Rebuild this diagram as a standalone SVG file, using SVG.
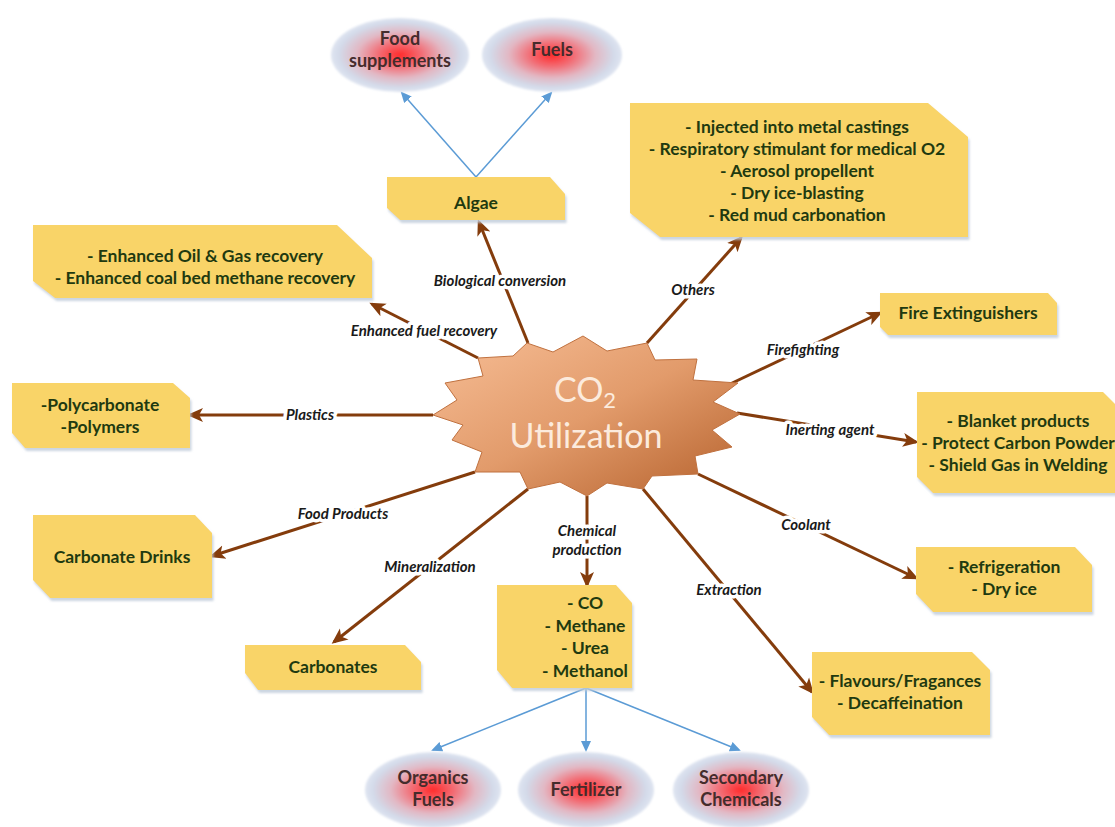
<svg xmlns="http://www.w3.org/2000/svg" width="1115" height="827" viewBox="0 0 1115 827">
<defs>
<style>
.box{fill:#F9D468;filter:url(#sh)}
.bt{font-family:Lato,'Liberation Sans',sans-serif;font-weight:bold;font-size:17.5px;fill:#1F3A10;text-anchor:middle}
.lbl{font-family:Lato,'Liberation Sans',sans-serif;font-weight:bold;font-style:italic;font-size:15px;fill:#1A1A1A;text-anchor:middle;stroke:#fff;stroke-width:7;paint-order:stroke;stroke-linejoin:round}
.con{stroke:#843C0C;stroke-width:3;fill:none;marker-end:url(#ah)}
.bl{stroke:#5B9BD5;stroke-width:1.5;fill:none;marker-end:url(#bh)}
.ell{fill:url(#rg)}
.et{font-family:Lato,'Liberation Sans',sans-serif;font-weight:bold;font-size:18px;fill:#452C2C;text-anchor:middle}
.st{font-family:Lato,'Open Sans',sans-serif;font-size:34px;fill:#FCEBDD;text-anchor:middle}
</style>
<filter id="sh" x="-5%" y="-10%" width="115%" height="130%">
<feDropShadow dx="1.5" dy="3" stdDeviation="1" flood-color="#BFCBDA" flood-opacity="0.8"/>
</filter>
<filter id="soft" x="-10%" y="-10%" width="120%" height="120%">
<feGaussianBlur stdDeviation="1.2"/>
</filter>
<linearGradient id="sg" x1="0" y1="0" x2="1" y2="1">
<stop offset="0" stop-color="#F7BE96"/>
<stop offset="0.5" stop-color="#E29B6B"/>
<stop offset="1" stop-color="#B5612C"/>
</linearGradient>
<radialGradient id="rg" cx="0.5" cy="0.5" r="0.5">
<stop offset="0" stop-color="#FF2B2B"/>
<stop offset="0.3" stop-color="#F36A72"/>
<stop offset="0.62" stop-color="#E2B8C4"/>
<stop offset="0.88" stop-color="#D3DAE9"/>
<stop offset="1" stop-color="#DFE5F1"/>
</radialGradient>
<marker id="ah" markerUnits="userSpaceOnUse" markerWidth="18" markerHeight="16" refX="13" refY="8" orient="auto">
<path d="M0,1 L16,8 L0,15 L4,8 z" fill="#843C0C"/>
</marker>
<marker id="bh" markerUnits="userSpaceOnUse" markerWidth="12" markerHeight="10" refX="9" refY="5" orient="auto">
<path d="M0,0 L11,5 L0,10 z" fill="#5B9BD5"/>
</marker>
</defs>
<rect width="1115" height="827" fill="#fff"/>

<g id="connectors">
<line class="bl" x1="476" y1="177" x2="402" y2="93"/>
<line class="bl" x1="476" y1="177" x2="551" y2="93"/>
<line class="bl" x1="586" y1="688" x2="433" y2="750"/>
<line class="bl" x1="586" y1="688" x2="586" y2="750"/>
<line class="bl" x1="586" y1="688" x2="739" y2="750"/>
<line class="con" x1="528" y1="343" x2="479" y2="222"/>
<line class="con" x1="478" y1="358" x2="372" y2="304"/>
<line class="con" x1="433" y1="415" x2="190" y2="415"/>
<line class="con" x1="475" y1="472" x2="212" y2="556"/>
<line class="con" x1="528" y1="489" x2="334" y2="642"/>
<line class="con" x1="587" y1="496" x2="587" y2="585"/>
<line class="con" x1="643" y1="489" x2="812" y2="692"/>
<line class="con" x1="698" y1="474" x2="916" y2="578"/>
<line class="con" x1="737" y1="413" x2="916" y2="442"/>
<line class="con" x1="728" y1="385" x2="880" y2="313"/>
<line class="con" x1="647" y1="343" x2="741" y2="238"/>
<text class="lbl" x="500" y="286">Biological conversion</text>
<text class="lbl" x="424" y="336">Enhanced fuel recovery</text>
<text class="lbl" x="310" y="420">Plastics</text>
<text class="lbl" x="343" y="519">Food Products</text>
<text class="lbl" x="430" y="572">Mineralization</text>
<text class="lbl" x="587" y="536">Chemical</text>
<text class="lbl" x="587" y="555">production</text>
<text class="lbl" x="729" y="595">Extraction</text>
<text class="lbl" x="806" y="530">Coolant</text>
<text class="lbl" x="830" y="435">Inerting agent</text>
<text class="lbl" x="803" y="355">Firefighting</text>
<text class="lbl" x="693" y="295">Others</text>
</g>

<g id="center">
<polygon points="583,336 607,351 647,343 655,360 697,359 693,380 738,383 713,402 740,414 712,430 732,447 695,456 698,474 652,476 643,489 607,483 587,496 560,482 528,489 520,472 475,472 482,452 452,440 463,425 433,415 457,400 445,383 483,376 478,358 513,356 527,343 553,352" fill="url(#sg)" stroke="#C0713F" stroke-width="1"/>
<text class="st" x="585" y="402">CO<tspan font-size="22" dy="6">2</tspan></text>
<text class="st" x="586" y="448">Utilization</text>
</g>

<g id="food-supplements">
<ellipse class="ell" cx="400" cy="55" rx="69" ry="37" filter="url(#soft)"/>
<text class="et" x="400" y="45">Food</text>
<text class="et" x="400" y="67">supplements</text>
</g>
<g id="fuels">
<ellipse class="ell" cx="552" cy="55" rx="70" ry="37" filter="url(#soft)"/>
<text class="et" x="552" y="56">Fuels</text>
</g>
<g id="organics-fuels">
<ellipse class="ell" cx="433" cy="790" rx="68" ry="38" filter="url(#soft)"/>
<text class="et" x="433" y="784">Organics</text>
<text class="et" x="433" y="806">Fuels</text>
</g>
<g id="fertilizer">
<ellipse class="ell" cx="586" cy="790" rx="68" ry="38" filter="url(#soft)"/>
<text class="et" x="586" y="796">Fertilizer</text>
</g>
<g id="secondary-chemicals">
<ellipse class="ell" cx="741" cy="790" rx="68" ry="38" filter="url(#soft)"/>
<text class="et" x="741" y="784">Secondary</text>
<text class="et" x="741" y="806">Chemicals</text>
</g>

<g id="algae">
<polygon class="box" points="387,177 550,177 565,194 565,220 400,220 387,208"/>
<text class="bt" x="476" y="209">Algae</text>
</g>
<g id="others">
<polygon class="box" points="630,103 928,103 968,137 968,237 660,237 630,213"/>
<text class="bt" x="797" y="133">- Injected into metal castings</text>
<text class="bt" x="797" y="155">- Respiratory stimulant for medical O2</text>
<text class="bt" x="797" y="177">- Aerosol propellent</text>
<text class="bt" x="797" y="199">- Dry ice-blasting</text>
<text class="bt" x="797" y="221">- Red mud carbonation</text>
</g>
<g id="enhanced-recovery">
<polygon class="box" points="33,225 337,225 372,258 372,298 55,298 33,281"/>
<text class="bt" x="205" y="262">- Enhanced Oil &amp; Gas recovery</text>
<text class="bt" x="205" y="284">- Enhanced coal bed methane recovery</text>
</g>
<g id="polycarbonate">
<polygon class="box" points="12,383 173,383 190,398 190,448 25,448 12,433"/>
<text class="bt" x="100" y="411">-Polycarbonate</text>
<text class="bt" x="100" y="433">-Polymers</text>
</g>
<g id="carbonate-drinks">
<polygon class="box" points="33,515 195,515 212,533 212,598 50,598 33,580"/>
<text class="bt" x="122" y="563">Carbonate Drinks</text>
</g>
<g id="carbonates">
<polygon class="box" points="245,645 405,645 421,662 421,690 258,690 245,673"/>
<text class="bt" x="333" y="673">Carbonates</text>
</g>
<g id="chemicals">
<polygon class="box" points="497,585 616,585 632,603 632,688 512,688 497,670"/>
<text class="bt" x="585" y="609">- CO</text>
<text class="bt" x="585" y="632">- Methane</text>
<text class="bt" x="585" y="654">- Urea</text>
<text class="bt" x="585" y="677">- Methanol</text>
</g>
<g id="flavours">
<polygon class="box" points="812,652 972,652 990,670 990,735 829,735 812,717"/>
<text class="bt" x="900" y="687">- Flavours/Fragances</text>
<text class="bt" x="900" y="709">- Decaffeination</text>
</g>
<g id="refrigeration">
<polygon class="box" points="916,547 1075,547 1092,565 1092,612 933,612 916,594"/>
<text class="bt" x="1004" y="573">- Refrigeration</text>
<text class="bt" x="1004" y="595">- Dry ice</text>
</g>
<g id="blanket">
<polygon class="box" points="917,392 1103,392 1120,409 1120,493 933,493 917,477"/>
<text class="bt" x="1018" y="427">- Blanket products</text>
<text class="bt" x="1018" y="449">- Protect Carbon Powder</text>
<text class="bt" x="1018" y="471">- Shield Gas in Welding</text>
</g>
<g id="fire-extinguishers">
<polygon class="box" points="880,293 1048,293 1057,303 1057,335 888,335 880,327"/>
<text class="bt" x="968" y="319">Fire Extinguishers</text>
</g>
</svg>
